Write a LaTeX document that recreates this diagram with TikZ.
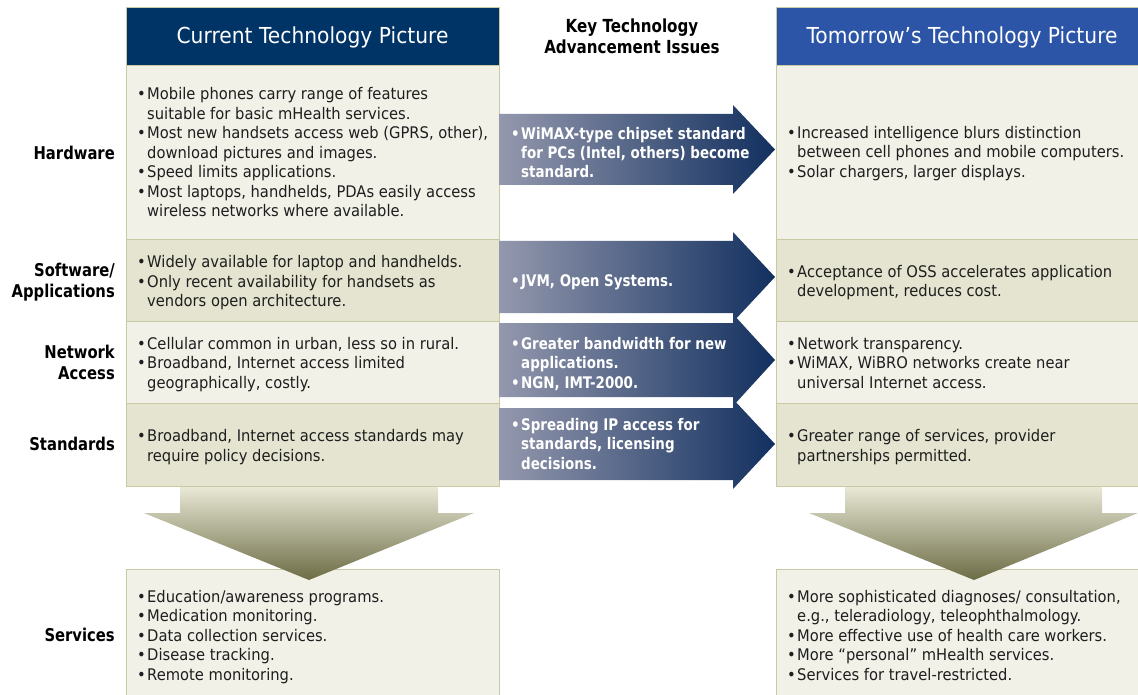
\documentclass[tikz,border=0pt]{standalone}
\usepackage{fontspec}
\setmainfont{DejaVu Sans}[FakeStretch=0.92,BoldFeatures={FakeStretch=0.84}]
\definecolor{navy}{HTML}{003366}
\definecolor{tblue}{HTML}{2C55A8}
\definecolor{celllight}{HTML}{F1F1E8}
\definecolor{celldark}{HTML}{E4E4D0}
\definecolor{cellborder}{HTML}{C9C9A3}
\definecolor{arrowL}{HTML}{9498AD}
\definecolor{arrowR}{HTML}{12305F}
\definecolor{downT}{HTML}{E8E8D6}
\definecolor{downB}{HTML}{6C6C45}
\definecolor{txtc}{HTML}{1E1E1E}
\newcommand\bl{\makebox[10pt][l]{\textbullet}}
\newcommand\ind{\hspace*{10pt}}
\begin{document}
\begin{tikzpicture}[x=1pt,y=-1pt,
  cell/.style={draw=cellborder,line width=1.3pt,anchor=north west,inner sep=0pt},
  txt/.style={anchor=base west,inner sep=0pt,align=left,text=txtc,font=\fontsize{16}{19.5}\selectfont},
  atxt/.style={anchor=base west,inner sep=0pt,align=left,text=white,font=\fontsize{16}{19.4}\selectfont\bfseries},
  lbl/.style={anchor=base east,inner sep=0pt,align=right,text=black,font=\fontsize{17.6}{21}\selectfont\bfseries},
  hdr/.style={inner sep=0pt,text=white,font=\fontsize{22}{26}\selectfont},
  harrow/.style={left color=arrowL,right color=arrowR},
  darrow/.style={top color=downT,bottom color=downB}]
\clip (0,0) rectangle (1138,695);
\fill[white] (0,0) rectangle (1138,695);
% left column
\node[cell,fill=navy,minimum width=373pt,minimum height=58pt] (lh) at (126,7) {};
\node[cell,fill=celllight,minimum width=373pt,minimum height=174pt] (lhw) at (126,65) {};
\node[cell,fill=celldark,minimum width=373pt,minimum height=82pt] (lsw) at (126,239) {};
\node[cell,fill=celllight,minimum width=373pt,minimum height=82pt] (lnw) at (126,321) {};
\node[cell,fill=celldark,minimum width=373pt,minimum height=83pt] (lst) at (126,403) {};
\node[cell,fill=celllight,minimum width=373pt,minimum height=140pt] (lsv) at (126,569) {};
% right column
\node[cell,fill=tblue,minimum width=372pt,minimum height=58pt] (rh) at (776,7) {};
\node[cell,fill=celllight,minimum width=372pt,minimum height=174pt] (rhw) at (776,65) {};
\node[cell,fill=celldark,minimum width=372pt,minimum height=82pt] (rsw) at (776,239) {};
\node[cell,fill=celllight,minimum width=372pt,minimum height=82pt] (rnw) at (776,321) {};
\node[cell,fill=celldark,minimum width=372pt,minimum height=83pt] (rst) at (776,403) {};
\node[cell,fill=celllight,minimum width=372pt,minimum height=140pt] (rsv) at (776,569) {};
% headers
\node[hdr] (lht) at (312.5,37) {Current Technology Picture};
\node[hdr] (rht) at (962,37) {Tomorrow’s Technology Picture};
\node[anchor=base,inner sep=0pt,align=center,font=\fontsize{18}{21}\selectfont\bfseries] (mh) at (632,53.5) {Key Technology\\Advancement Issues};
% row labels
\node[lbl] (l1) at (115,159.5) {Hardware};
\node[lbl] (l2) at (115,298) {Software/\\Applications};
\node[lbl] (l3) at (115,379.5) {Network\\Access};
\node[lbl] (l4) at (115,450.5) {Standards};
\node[lbl] (l5) at (115,641.5) {Services};
% horizontal arrows
\shade[harrow] (499,114) -- (733,114) -- (733,105) -- (775,149.5) -- (733,194) -- (733,185) -- (499,185) -- cycle;
\shade[harrow] (499,241) -- (733,241) -- (733,232) -- (775,277) -- (733,322) -- (733,313) -- (499,313) -- cycle;
\shade[harrow] (499,323) -- (733,323) -- (733,314) -- (775,360) -- (733,406) -- (733,397) -- (499,397) -- cycle;
\shade[harrow] (499,408) -- (733,408) -- (733,399) -- (775,444) -- (733,489) -- (733,480) -- (499,480) -- cycle;
% down arrows
\shade[darrow] (180,487) -- (438,487) -- (438,513) -- (474,513) -- (309,580) -- (144,513) -- (180,513) -- cycle;
\shade[darrow] (845,487) -- (1102,487) -- (1102,513) -- (1138,513) -- (974,580) -- (809,513) -- (845,513) -- cycle;
% left texts (anchor = baseline of last line)
\node[txt] (t1) at (137,217) {\bl Mobile phones carry range of features\\\ind suitable for basic mHealth services.\\\bl Most new handsets access web (GPRS, other),\\\ind download pictures and images.\\\bl Speed limits applications.\\\bl Most laptops, handhelds, PDAs easily access\\\ind wireless networks where available.};
\node[txt] (t2) at (137,306.5) {\bl Widely available for laptop and handhelds.\\\bl Only recent availability for handsets as\\\ind vendors open architecture.};
\node[txt] (t3) at (137,388) {\bl Cellular common in urban, less so in rural.\\\bl Broadband, Internet access limited\\\ind geographically, costly.};
\node[txt] (t4) at (137,461) {\bl Broadband, Internet access standards may\\\ind require policy decisions.};
\node[txt] (t5) at (137,680) {\bl Education/awareness programs.\\\bl Medication monitoring.\\\bl Data collection services.\\\bl Disease tracking.\\\bl Remote monitoring.};
% arrow texts
\node[atxt] (a1) at (511,178) {\bl WiMAX-type chipset standard\\\ind for PCs (Intel, others) become\\\ind standard.};
\node[atxt] (a2) at (511,286) {\bl JVM, Open Systems.};
\node[atxt] (a3) at (511,388) {\bl Greater bandwidth for new\\\ind applications.\\\bl NGN, IMT-2000.};
\node[atxt] (a4) at (511,469) {\bl Spreading IP access for\\\ind standards, licensing\\\ind decisions.};
% right texts
\node[txt] (r1) at (787,177.5) {\bl Increased intelligence blurs distinction\\\ind between cell phones and mobile computers.\\\bl Solar chargers, larger displays.};
\node[txt] (r2) at (787,296.5) {\bl Acceptance of OSS accelerates application\\\ind development, reduces cost.};
\node[txt] (r3) at (787,388) {\bl Network transparency.\\\bl WiMAX, WiBRO networks create near\\\ind universal Internet access.};
\node[txt] (r4) at (787,461) {\bl Greater range of services, provider\\\ind partnerships permitted.};
\node[txt] (r5) at (787,680) {\bl More sophisticated diagnoses/ consultation,\\\ind e.g., teleradiology, teleophthalmology.\\\bl More effective use of health care workers.\\\bl More “personal” mHealth services.\\\bl Services for travel-restricted.};
\end{tikzpicture}
\end{document}
